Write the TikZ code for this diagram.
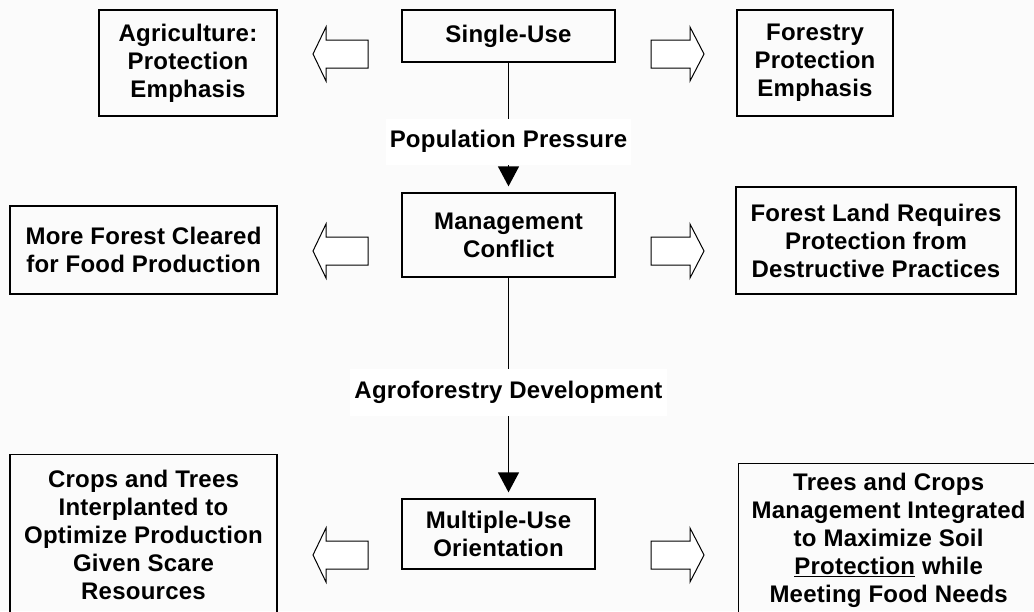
\documentclass[tikz,border=0pt]{standalone}
\usepackage{fontspec}
\setsansfont{Liberation Sans}[LetterSpace=1]
\usetikzlibrary{arrows.meta}
\definecolor{ink}{HTML}{000000}
\definecolor{paper}{HTML}{FBFBFB}
\tikzset{
  box/.style={draw=ink,line width=1.3pt,align=center,inner sep=2pt},
  flow/.style={draw=ink,line width=1.3pt,-{Triangle[width=21pt,length=20pt]},shorten >=6pt},
  lbl/.style={fill=white,inner xsep=4pt,inner ysep=12pt},
  blk/.style={draw=ink,line width=1pt,fill=white,line join=miter}
}

\begin{document}
\begin{tikzpicture}[x=1pt,y=-1pt,font=\fontsize{24}{28}\selectfont\sffamily\bfseries,text=ink,>=Latex]
  \useasboundingbox (0,0) rectangle (1034,611);
  \clip (0,0) rectangle (1034,611);
  \fill[paper] (0,0) rectangle (1034,611);

  % middle column
  \node[box,minimum width=213pt,minimum height=52pt] (single) at (508.5,36) {Single-Use};
  \node[box,minimum width=213pt,minimum height=84pt] (mgmt) at (508.5,235) {Management\\Conflict};
  \node[box,minimum width=193pt,minimum height=70pt] (multi) at (498.5,534) {Multiple-Use\\Orientation};

  % left column
  \node[box,minimum width=178pt,minimum height=106pt] (agri) at (188,63) {Agriculture:\\Protection\\Emphasis};
  \node[box,minimum width=267pt,minimum height=88pt] (cleared) at (143.5,250) {More Forest Cleared\\for Food Production};
  \node[box,anchor=north,minimum width=267pt,minimum height=160pt] (crops) at (143.5,454)
    {Crops and Trees\\Interplanted to\\Optimize Production\\Given Scare\\Resources};

  % right column
  \node[box,minimum width=156pt,minimum height=106pt] (forestry) at (815,63) {Forestry\\Protection\\Emphasis};
  \node[box,minimum width=280pt,minimum height=107pt] (land) at (876,240.5)
    {Forest Land Requires\\Protection from\\Destructive Practices};
  \node[box,anchor=north west,minimum width=300pt,minimum height=154pt] (trees) at (738,463)
    {Trees and Crops\\Management Integrated\\to Maximize Soil\\\underline{Protection} while\\Meeting Food Needs};

  % main flow
  \draw[flow] (single.south) -- (mgmt.north)
    node[lbl,pos=0.61] (pressure) {Population Pressure};
  \draw[flow] (mgmt.south) -- (mgmt.south |- multi.north)
    node[lbl,pos=0.52] (agrofor) {Agroforestry Development};

  % block arrows
  \foreach \y in {54,251,555} {
    \draw[blk] (313,\y) -- (326,{\y-27}) -- (326,{\y-14}) -- (368,{\y-14})
      -- (368,{\y+14}) -- (326,{\y+14}) -- (326,{\y+27}) -- cycle;
    \draw[blk] (651,{\y-14}) -- (690,{\y-14}) -- (690,{\y-27}) -- (704,\y)
      -- (690,{\y+27}) -- (690,{\y+14}) -- (651,{\y+14}) -- cycle;
  }
\end{tikzpicture}
\end{document}
